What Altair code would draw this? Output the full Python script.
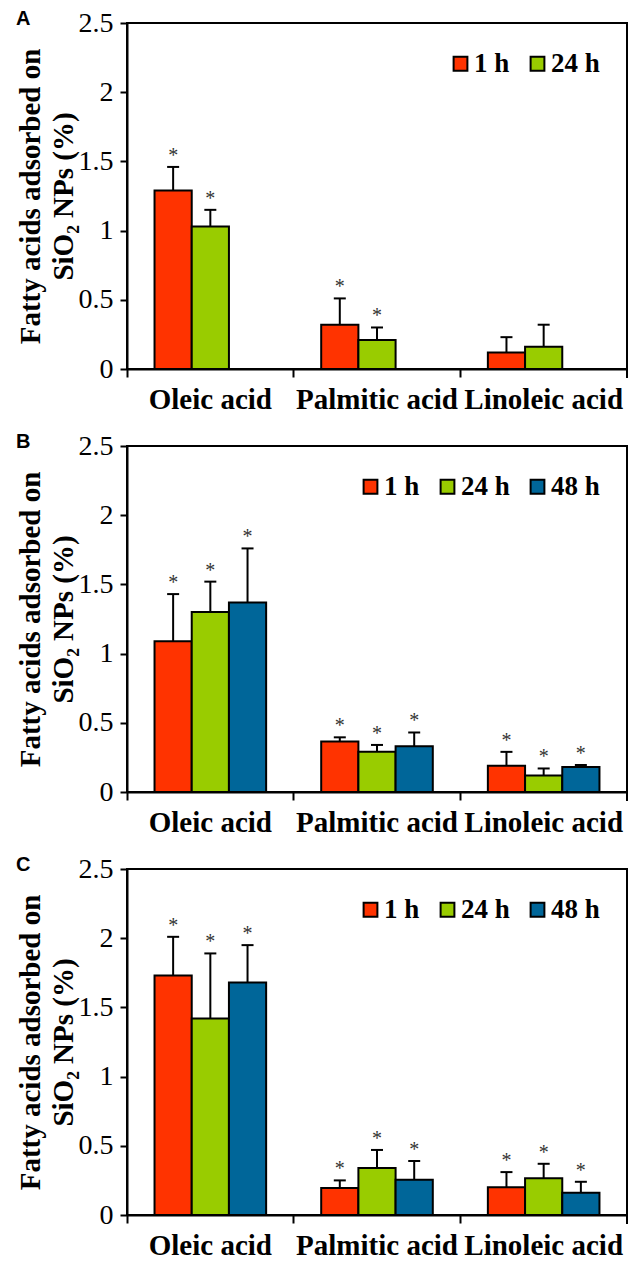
import altair as alt
import pandas as pd

acids = ["Oleic acid", "Palmitic acid", "Linoleic acid"]
times_a = ["1 h", "24 h"]
times_bc = ["1 h", "24 h", "48 h"]
colors = ["#FF3300", "#99CC00", "#006699"]

# Panel A  (rows = time, columns = acid)
a_mean = [[1.29, 0.32, 0.12], [1.03, 0.21, 0.16]]
a_err = [[0.17, 0.19, 0.11], [0.12, 0.09, 0.16]]
a_star = [[1, 1, 0], [1, 1, 0]]

# Panel B
b_mean = [[1.09, 0.365, 0.19], [1.30, 0.29, 0.12], [1.37, 0.33, 0.18]]
b_err = [[0.34, 0.03, 0.10], [0.22, 0.05, 0.05], [0.39, 0.10, 0.015]]
b_star = [[1, 1, 1], [1, 1, 1], [1, 1, 1]]

# Panel C
c_mean = [[1.73, 0.195, 0.20], [1.42, 0.34, 0.265], [1.68, 0.255, 0.16]]
c_err = [[0.28, 0.055, 0.11], [0.47, 0.13, 0.105], [0.27, 0.135, 0.08]]
c_star = [[1, 1, 1], [1, 1, 1], [1, 1, 1]]

y_title = ["Fatty acids adsorbed on", "SiO\u2082 NPs (%)"]
y_ticks = [0, 0.5, 1, 1.5, 2, 2.5]

SERIF = "Times New Roman"


def panel(letter, times, means, errs, stars):
    rows = []
    for ti, t in enumerate(times):
        for ai, a in enumerate(acids):
            rows.append({
                "acid": a,
                "time": t,
                "mean": means[ti][ai],
                "top": round(means[ti][ai] + errs[ti][ai], 4),
                "star": "*" if stars[ti][ai] else "",
            })
    df = pd.DataFrame(rows)

    base = alt.Chart(df).encode(
        x=alt.X(
            "acid:N",
            sort=acids,
            title=None,
            scale=alt.Scale(paddingInner=0, paddingOuter=0),
            axis=alt.Axis(
                bandPosition=0,
                labelAngle=0,
                labelFont=SERIF,
                labelFontSize=29,
                labelFontWeight="bold",
                labelColor="black",
                labelPadding=8,
                labelOverlap=False,
                labelLimit=200,
                tickSize=8,
                tickWidth=2,
                tickColor="black",
                domainColor="black",
                domainWidth=2,
            ),
        ),
        xOffset=alt.XOffset(
            "time:N", sort=times, scale=alt.Scale(paddingInner=0, paddingOuter=0.74)
        ),
    )

    bars = base.mark_bar(stroke="black", strokeWidth=2).encode(
        y=alt.Y(
            "mean:Q",
            scale=alt.Scale(domain=[0, 2.5], nice=False),
            title=y_title,
            axis=alt.Axis(
                values=y_ticks,
                format="~g",
                grid=False,
                labelFont=SERIF,
                labelFontSize=28,
                labelColor="black",
                labelPadding=7,
                tickSize=7,
                tickWidth=2,
                tickColor="black",
                domainColor="black",
                domainWidth=2,
                titleFont=SERIF,
                titleFontSize=29,
                titleFontWeight="bold",
                titleColor="black",
                titleLineHeight=33,
                titlePadding=0,
            ),
        ),
        color=alt.Color(
            "time:N",
            sort=times,
            scale=alt.Scale(domain=times, range=colors[: len(times)]),
            legend=alt.Legend(
                title=None,
                orient="top-right",
                offset=27,
                direction="horizontal",
                padding=0,
                symbolType="square",
                symbolSize=190,
                symbolStrokeColor="black",
                symbolStrokeWidth=2,
                symbolOpacity=1,
                labelFont=SERIF,
                labelFontSize=27,
                labelFontWeight="bold",
                labelColor="black",
                labelOffset=0,
                columnPadding=14,
            ),
        ),
    )

    rule = base.mark_rule(color="black", strokeWidth=2).encode(
        y="mean:Q", y2="top:Q"
    )
    cap = base.mark_tick(color="black", thickness=2, size=12, orient="horizontal", opacity=1).encode(
        y="top:Q"
    )
    star = base.mark_text(
        font=SERIF, fontSize=20, color="#333333", dy=-11, baseline="middle"
    ).encode(y="top:Q", text="star:N")

    # closing category tick at the right end of the x axis
    end_tick = (
        alt.Chart(pd.DataFrame({"acid": [acids[-1]]}))
        .mark_tick(color="black", thickness=2, size=8, orient="vertical", yOffset=5, opacity=1)
        .encode(
            x=alt.X("acid:N", sort=acids, bandPosition=1),
            y=alt.YDatum(0),
        )
    )

    return alt.layer(bars, rule, cap, star, end_tick).properties(
        width=500,
        height=346,
        title=alt.TitleParams(
            letter,
            anchor="start",
            frame="bounds",
            font="Liberation Sans",
            fontSize=20,
            fontWeight="bold",
            color="black",
            offset=-20,
        ),
    )


pa = panel("A", times_a, a_mean, a_err, a_star)
pb = panel("B", times_bc, b_mean, b_err, b_star)
pc = panel("C", times_bc, c_mean, c_err, c_star)

chart = (
    alt.vconcat(pa, pb, pc, spacing=16)
    .resolve_scale(color="independent")
    .resolve_legend(color="independent")
    .properties(padding={"left": 7, "top": 0, "right": 0, "bottom": 0}, background="white")
    .configure_view(stroke="black", strokeWidth=2)
)

chart.save("out.html", embed_options={"renderer": "svg", "actions": False})
